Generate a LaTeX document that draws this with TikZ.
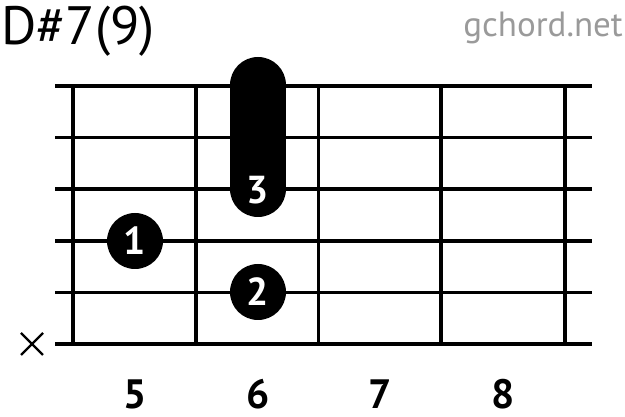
\documentclass[tikz,border=0pt]{standalone}
\usepackage{fontspec}
\setmainfont{PT Sans}
\definecolor{sitegray}{HTML}{9A9A9A}
\begin{document}
\begin{tikzpicture}[x=1pt,y=-1pt,
  string/.style={line width=3.6pt},
  fret/.style={line width=3.2pt},
  finger/.style={circle,fill=black,minimum size=56pt,inner sep=0pt,text=white,font=\bfseries\fontsize{39}{39}\selectfont},
  fretnum/.style={anchor=base,inner sep=0pt,font=\bfseries\fontsize{41}{41}\selectfont}]
\useasboundingbox (0,0) rectangle (625,417);
% title and site name
\node[anchor=base west,inner sep=0pt,font=\fontsize{54}{54}\selectfont] (title) at (1,45) {D\#7(9)};
\node[anchor=base east,inner sep=0pt,text=sitegray,font=\fontsize{35}{35}\selectfont] (site) at (623,37) {gchord.net};
% strings
\draw[string] (55,86) -- (592,86);
\draw[string] (55,137.6) -- (592,137.6);
\draw[string] (55,189.2) -- (592,189.2);
\draw[string] (55,240.8) -- (592,240.8);
\draw[string] (55,292.4) -- (592,292.4);
\draw[string] (55,344) -- (592,344);
% frets
\draw[fret] (73,86) -- (73,344);
\draw[fret] (196,86) -- (196,344);
\draw[fret] (318.5,86) -- (318.5,344);
\draw[fret] (441,86) -- (441,344);
\draw[fret] (565,86) -- (565,344);
% muted string
\draw[line width=2.4pt] (21,333) -- (43,355);
\draw[line width=2.4pt] (21,355) -- (43,333);
% fingers
\draw[line width=56pt,line cap=round] (258,85) -- (258,189);
\node[text=white,font=\bfseries\fontsize{39}{39}\selectfont] (f3) at (258,190) {3};
\node[finger] (f1) at (135,241) {1};
\node[finger] (f2) at (258,292) {2};
% fret numbers
\node[fretnum] (n5) at (135,409) {5};
\node[fretnum] (n6) at (258,409) {6};
\node[fretnum] (n7) at (380,409) {7};
\node[fretnum] (n8) at (503,409) {8};
\end{tikzpicture}
\end{document}
